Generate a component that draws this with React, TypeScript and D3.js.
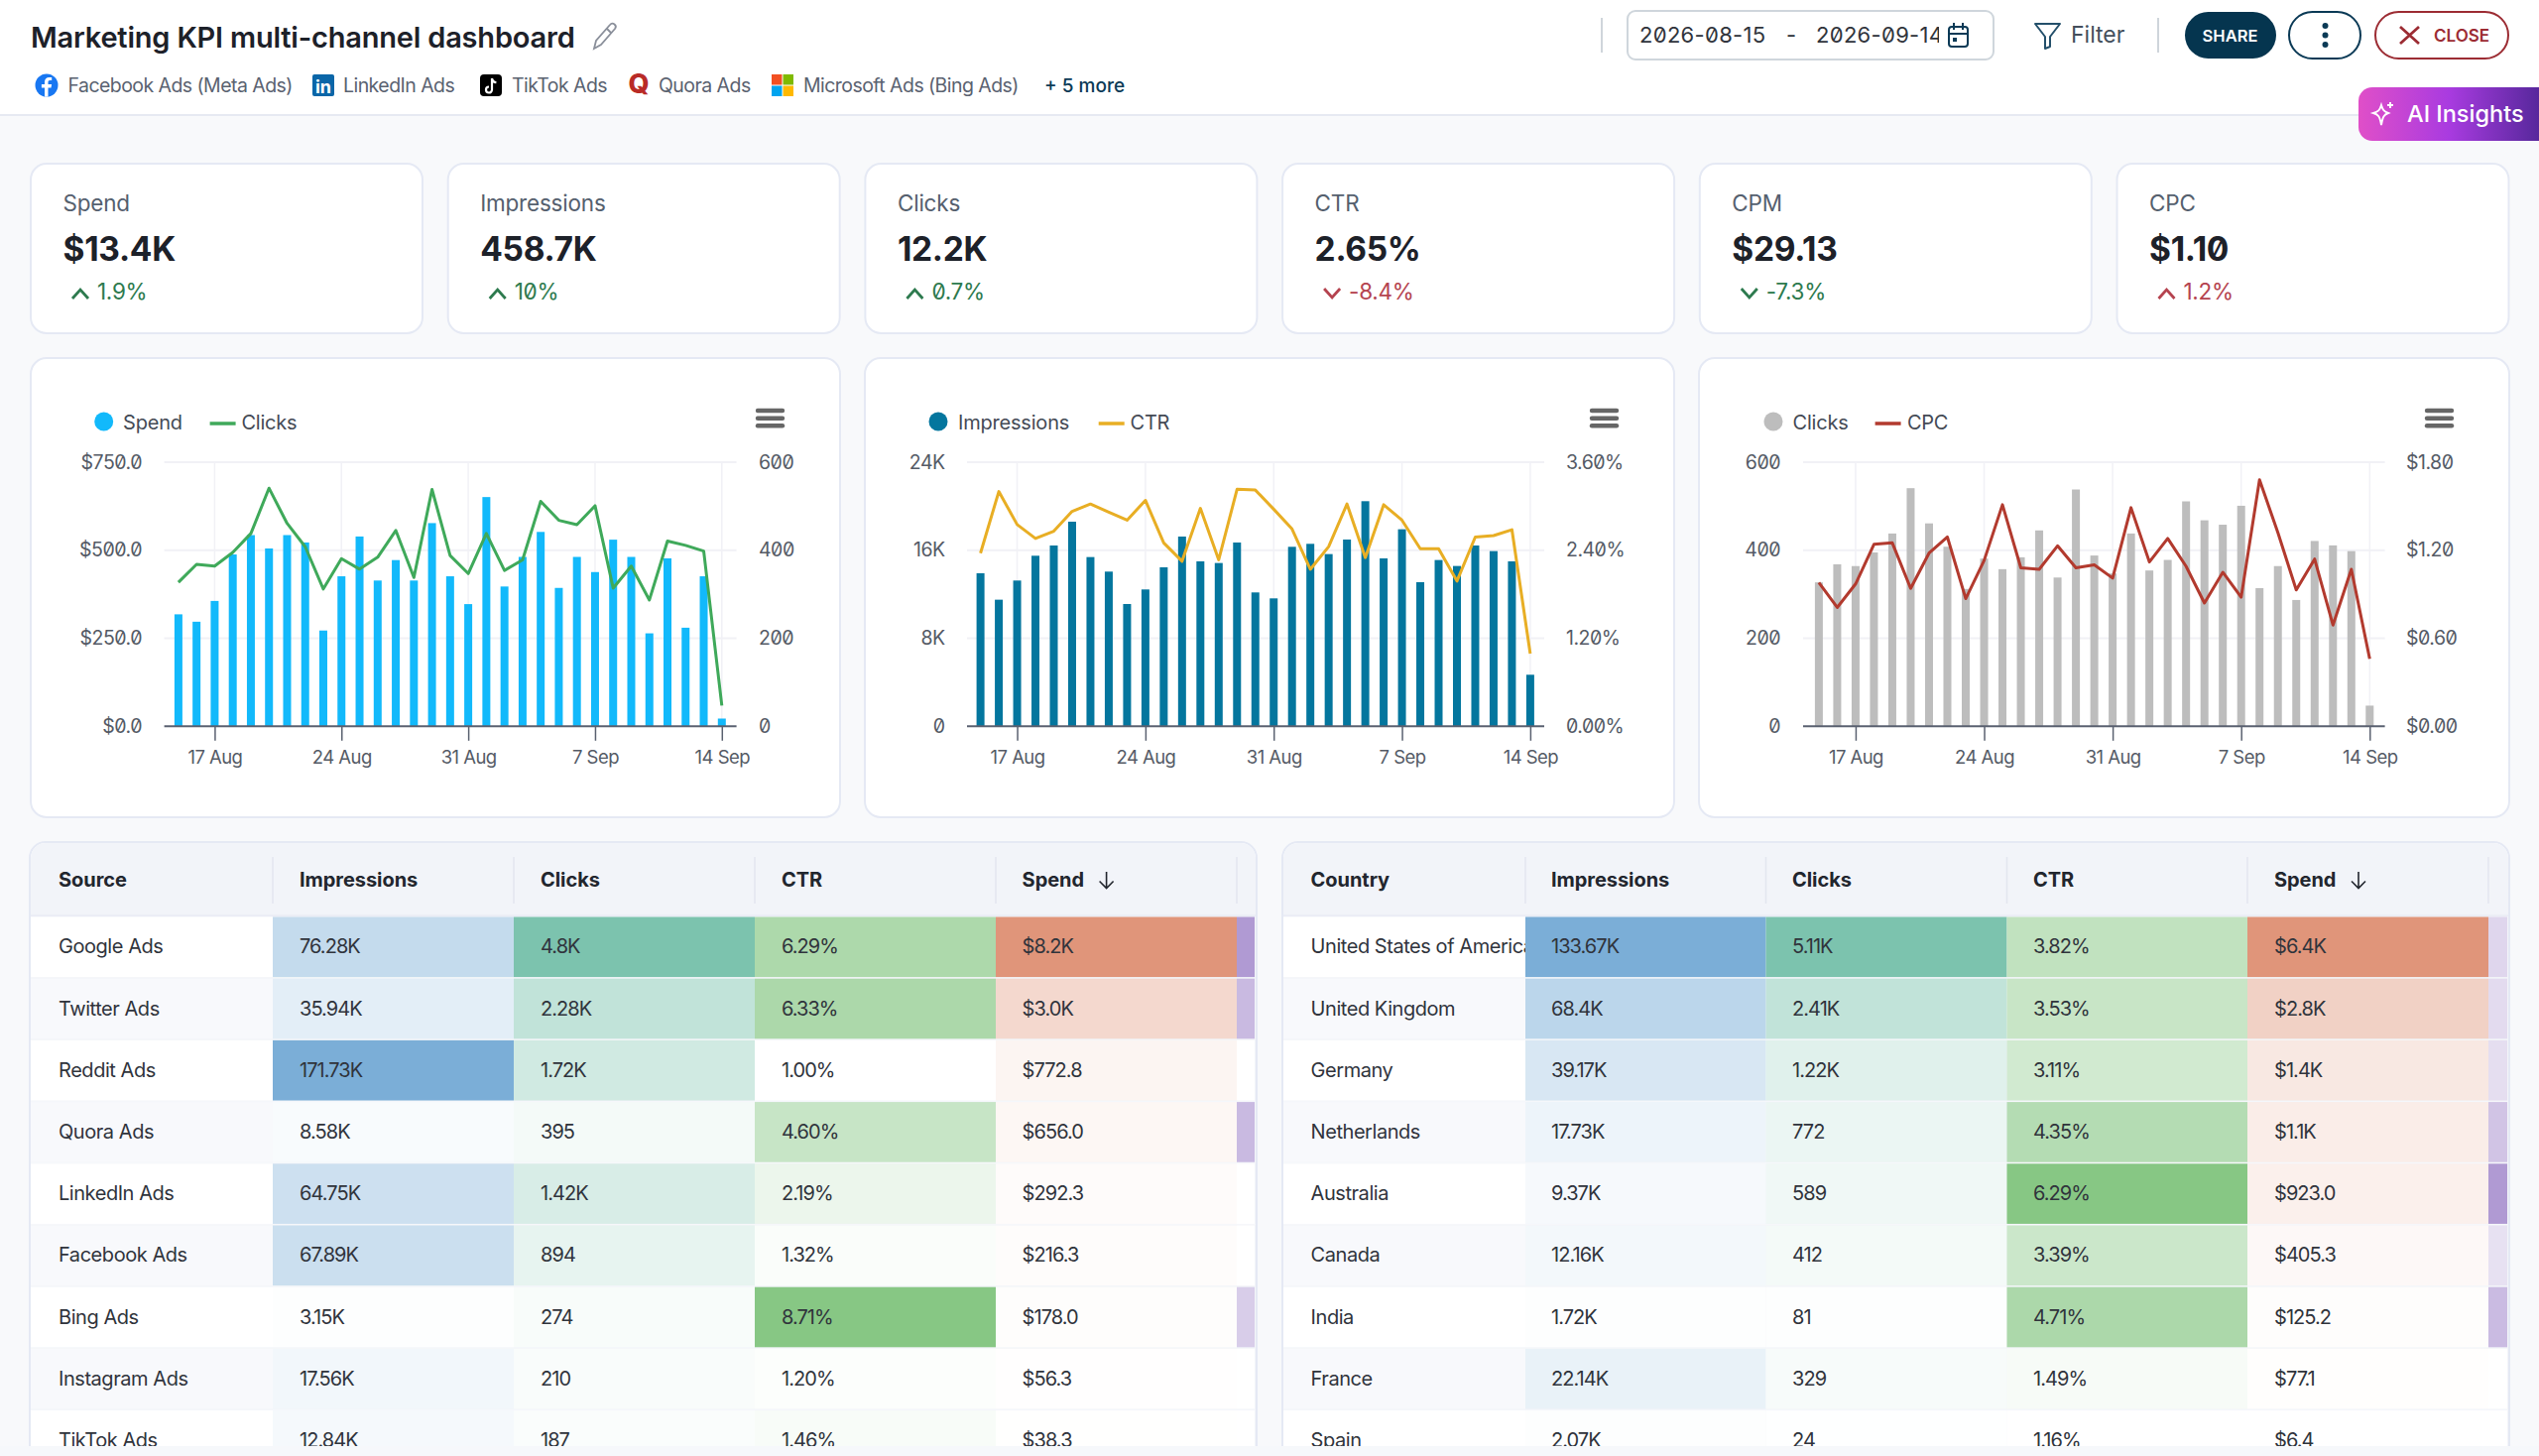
import React, { useEffect, useRef } from 'react';
import * as d3 from 'd3';

const FONT = 'Inter, "Noto Sans", sans-serif';
const SLASHED = { fontFeatureSettings: '"zero"' } as React.CSSProperties;

// daily series, 15 Aug to 14 Sep
const spendDaily = [318, 297, 356, 488, 543, 505, 543, 522, 272, 426, 539, 414, 472, 414, 577, 426, 347, 651, 397, 481, 552, 393, 481, 438, 530, 481, 264, 477, 280, 426, 22];
const clicksDaily = [327, 368, 364, 395, 438, 541, 461, 408, 312, 381, 357, 384, 445, 338, 538, 388, 347, 438, 354, 378, 511, 468, 458, 501, 314, 364, 287, 421, 411, 398, 47];
const imprDaily = [13908, 11505, 13247, 15500, 16431, 18594, 15380, 14059, 11114, 12436, 14449, 17243, 14990, 14840, 16702, 12166, 11625, 16311, 16582, 15650, 16972, 20457, 15260, 17904, 13097, 15110, 14569, 16431, 15921, 14990, 4686];
const ctrDaily = [2.36, 3.2, 2.75, 2.56, 2.66, 2.93, 3.03, 2.92, 2.81, 3.08, 2.5, 2.25, 2.97, 2.27, 3.23, 3.22, 2.96, 2.69, 2.14, 2.45, 3.03, 2.3, 3.02, 2.81, 2.42, 2.42, 1.98, 2.58, 2.6, 2.68, 0.99];
const cpcDaily = [0.98, 0.81, 0.97, 1.24, 1.25, 0.94, 1.18, 1.29, 0.87, 1.13, 1.51, 1.08, 1.07, 1.23, 1.08, 1.1, 1.01, 1.49, 1.12, 1.28, 1.09, 0.84, 1.05, 0.88, 1.68, 1.32, 0.93, 1.14, 0.69, 1.07, 0.46];

// kpi cards
const kpiLabels = ['Spend', 'Impressions', 'Clicks', 'CTR', 'CPM', 'CPC'];
const kpiValues = ['$13.4K', '458.7K', '12.2K', '2.65%', '$29.13', '$1.10'];
const kpiDeltas = ['1.9%', '10%', '0.7%', '-8.4%', '-7.3%', '1.2%'];
const kpiGood = [true, true, true, false, true, false];

// source table
const sourceNames = ['Google Ads', 'Twitter Ads', 'Reddit Ads', 'Quora Ads', 'LinkedIn Ads', 'Facebook Ads', 'Bing Ads', 'Instagram Ads', 'TikTok Ads'];
const sourceImpr = ['76.28K', '35.94K', '171.73K', '8.58K', '64.75K', '67.89K', '3.15K', '17.56K', '12.84K'];
const sourceClicks = ['4.8K', '2.28K', '1.72K', '395', '1.42K', '894', '274', '210', '187'];
const sourceCtr = ['6.29%', '6.33%', '1.00%', '4.60%', '2.19%', '1.32%', '8.71%', '1.20%', '1.46%'];
const sourceSpend = ['$8.2K', '$3.0K', '$772.8', '$656.0', '$292.3', '$216.3', '$178.0', '$56.3', '$38.3'];
const sourceCut = [1, 0.68, 0, 0.68, 0, 0, 0.5, 0, 0];

// country table
const countryNames = ['United States of America', 'United Kingdom', 'Germany', 'Netherlands', 'Australia', 'Canada', 'India', 'France', 'Spain'];
const countryImpr = ['133.67K', '68.4K', '39.17K', '17.73K', '9.37K', '12.16K', '1.72K', '22.14K', '2.07K'];
const countryClicks = ['5.11K', '2.41K', '1.22K', '772', '589', '412', '81', '329', '24'];
const countryCtr = ['3.82%', '3.53%', '3.11%', '4.35%', '6.29%', '3.39%', '4.71%', '1.49%', '1.16%'];
const countrySpend = ['$6.4K', '$2.8K', '$1.4K', '$1.1K', '$923.0', '$405.3', '$125.2', '$77.1', '$6.4'];
const countryCut = [0.41, 0.36, 0.33, 0.58, 1, 0.3, 0.67, 0, 0];

const sourceChips = ['Facebook Ads (Meta Ads)', 'LinkedIn Ads', 'TikTok Ads', 'Quora Ads', 'Microsoft Ads (Bing Ads)'];

const tickDates = d3.utcDay.range(new Date(Date.UTC(2026, 7, 17)), new Date(Date.UTC(2026, 8, 15)), 7);
const days = d3.utcDay.range(new Date(Date.UTC(2026, 7, 15)), new Date(Date.UTC(2026, 8, 15)));

interface ComboProps {
  box: [number, number];
  plot: [number, number];
  dayRange: [number, number];
  barName: string;
  lineName: string;
  bars: number[];
  line: number[];
  barMax: number;
  lineMax: number;
  barColor: string;
  lineColor: string;
  leftFmt: (v: number) => string;
  rightFmt: (v: number) => string;
  legendX: number[];
  menuX: number;
  leftEnd: number;
  rightStart: number;
}

const Combo: React.FC<ComboProps> = (p) => {
  const ref = useRef<SVGGElement | null>(null);

  useEffect(() => {
    if (!ref.current) return;
    const g = d3.select(ref.current);
    g.selectAll('*').remove();

    const yTop = 466;
    const yBase = 732.3;
    const tickColor = '#555b66';

    const x = d3.scaleUtc().domain([days[0], days[days.length - 1]]).range(p.dayRange);
    const yL = d3.scaleLinear().domain([0, p.barMax]).range([yBase, yTop]);
    const yR = d3.scaleLinear().domain([0, p.lineMax]).range([yBase, yTop]);
    const gridVals = d3.range(4).map((i) => (p.barMax * i) / 3);
    const rightVals = d3.range(4).map((i) => (p.lineMax * i) / 3);

    // panel
    g.append('rect')
      .attr('x', p.box[0]).attr('y', 361)
      .attr('width', p.box[1]).attr('height', 463)
      .attr('rx', 16)
      .attr('fill', '#fff').attr('stroke', '#e5e9f4').attr('stroke-width', 2);

    // grid
    gridVals.slice(1).forEach((v) => {
      g.append('line')
        .attr('x1', p.plot[0]).attr('x2', p.plot[1])
        .attr('y1', yL(v)).attr('y2', yL(v))
        .attr('stroke', '#f1f1f6').attr('stroke-width', 2);
    });
    tickDates.forEach((d) => {
      g.append('line')
        .attr('x1', x(d)).attr('x2', x(d))
        .attr('y1', yTop).attr('y2', yBase)
        .attr('stroke', '#f1f1f6').attr('stroke-width', 1.5);
    });

    // bars
    g.append('g').selectAll('rect').data(p.bars).join('rect')
      .attr('x', (_, i) => x(days[i]) - 4)
      .attr('y', (d) => yL(d))
      .attr('width', 8)
      .attr('height', (d) => yBase - yL(d))
      .attr('fill', p.barColor);

    // line
    const path = d3.line<number>()
      .x((_, i) => x(days[i]))
      .y((d) => yR(d));
    g.append('path')
      .attr('d', path(p.line))
      .attr('fill', 'none')
      .attr('stroke', p.lineColor)
      .attr('stroke-width', 3)
      .attr('stroke-linejoin', 'round');

    // x axis
    g.append('line')
      .attr('x1', p.plot[0]).attr('x2', p.plot[1])
      .attr('y1', yBase).attr('y2', yBase)
      .attr('stroke', '#5a6170').attr('stroke-width', 2);
    const xAxis = d3.axisBottom(x)
      .tickValues(tickDates)
      .tickFormat((d) => d3.utcFormat('%-d %b')(d as Date))
      .tickSize(14.5)
      .tickPadding(10);
    const xg = g.append('g').attr('transform', `translate(0,${yBase})`).call(xAxis);
    xg.select('.domain').remove();
    xg.selectAll('line').attr('stroke', '#5a6170').attr('stroke-width', 1.5);
    xg.selectAll('text')
      .attr('fill', tickColor).attr('font-size', 18.5).attr('letter-spacing', -0.55)
      .attr('font-family', FONT);

    // y labels
    gridVals.forEach((v) => {
      g.append('text')
        .attr('x', p.leftEnd).attr('y', yL(v) + 6.5)
        .attr('text-anchor', 'end')
        .attr('font-size', 19.5).attr('letter-spacing', -0.5).attr('fill', tickColor)
        .attr('font-family', FONT).style('font-feature-settings', '"zero"')
        .text(p.leftFmt(v));
    });
    rightVals.forEach((v) => {
      g.append('text')
        .attr('x', p.rightStart).attr('y', yR(v) + 6.5)
        .attr('font-size', 19.5).attr('letter-spacing', -0.5).attr('fill', tickColor)
        .attr('font-family', FONT).style('font-feature-settings', '"zero"')
        .text(p.rightFmt(v));
    });

    // legend
    g.append('circle').attr('cx', p.legendX[0]).attr('cy', 425).attr('r', 9.5).attr('fill', p.barColor);
    g.append('text').attr('x', p.legendX[1]).attr('y', 432.5)
      .attr('font-size', 20).attr('letter-spacing', -0.2).attr('fill', '#444a55').attr('font-family', FONT).text(p.barName);
    g.append('line')
      .attr('x1', p.legendX[2]).attr('x2', p.legendX[2] + 26)
      .attr('y1', 427).attr('y2', 427)
      .attr('stroke', p.lineColor).attr('stroke-width', 3.5);
    g.append('text').attr('x', p.legendX[3]).attr('y', 432.5)
      .attr('font-size', 20).attr('letter-spacing', -0.2).attr('fill', '#444a55').attr('font-family', FONT).text(p.lineName);

    // menu
    [414, 421.7, 429.3].forEach((yy) => {
      g.append('line')
        .attr('x1', p.menuX).attr('x2', p.menuX + 25)
        .attr('y1', yy).attr('y2', yy)
        .attr('stroke', '#666').attr('stroke-width', 4.4)
        .attr('stroke-linecap', 'round');
    });
  }, []);

  return <g ref={ref} />;
};

const num = (s: string) => {
  const v = parseFloat(s.replace(/[$%K]/g, ''));
  return s.includes('K') ? v * 1000 : v;
};

const heat = (vals: string[], color: string, fromMin = false) => {
  const nums = vals.map(num);
  return d3.scaleLinear<string>()
    .domain([fromMin ? (d3.min(nums) as number) : 0, d3.max(nums) as number])
    .range(['#ffffff', color])
    .interpolate(d3.interpolateRgb);
};

interface TableProps {
  id: string;
  left: number;
  right: number;
  cols: number[];
  textX: number[];
  title: string;
  names: string[];
  impr: string[];
  clicks: string[];
  ctr: string[];
  spend: string[];
  cut: number[];
}

const Table: React.FC<TableProps> = ({ id, left, right, cols, textX, title, names, impr, clicks, ctr, spend, cut }) => {
  const rowTop = (i: number) => 924.5 + i * 62.2;
  const rowH = 60.6;
  const ctrCol = heat(ctr, '#87c784', true);
  const columns = [
    { label: 'Impressions', vals: impr, color: heat(impr, '#7baed7') },
    { label: 'Clicks', vals: clicks, color: heat(clicks, '#7cc3ae') },
    { label: 'CTR', vals: ctr, color: ctrCol },
    { label: 'Spend', vals: spend, color: heat(spend, '#e0957a') },
  ];
  const cutColor = d3.scaleLinear<string>().domain([0, 1]).range(['#ffffff', '#b09ad3']);
  const nameTxt = { fontFamily: FONT, fontSize: 20, letterSpacing: -0.45 };
  const numTxt = { fontFamily: FONT, fontSize: 20, letterSpacing: -0.95 };
  const headTxt = { fontFamily: FONT, fontSize: 20, letterSpacing: -0.05, fontWeight: 700 };

  return (
    <g>
      <clipPath id={id}>
        <rect x={left} y={924} width={cols[0] - left} height={540} />
      </clipPath>
      <path
        d={`M${left} 1480V865a16 16 0 0 1 16 -16H${right - 16}a16 16 0 0 1 16 16V1480Z`}
        fill="#fff"
        stroke="#e5e9f4"
        strokeWidth={2}
      />
      <path
        d={`M${left + 1} 923V865a15 15 0 0 1 15 -15H${right - 16}a15 15 0 0 1 15 15V923Z`}
        fill="#f2f4f9"
      />
      <line x1={left} x2={right} y1={923.5} y2={923.5} stroke="#e5e9f4" strokeWidth={2} />
      <text x={textX[0]} y={894} {...headTxt} fill="#22262e">{title}</text>
      {columns.map((c, j) => (
        <g key={c.label}>
          <line x1={cols[j]} x2={cols[j]} y1={864} y2={911} stroke="#e3e6ef" strokeWidth={1.5} />
          <text x={textX[j + 1]} y={894} {...headTxt} fill="#22262e">{c.label}</text>
        </g>
      ))}
      <line x1={cols[4]} x2={cols[4]} y1={864} y2={911} stroke="#e3e6ef" strokeWidth={1.5} />
      <path
        d={`M${textX[4] + 85} 879v16m-7 -6.500l7 7l7 -7`}
        fill="none"
        stroke="#22262e"
        strokeWidth={1.6}
      />
      {names.map((name, i) => (
        <g key={name}>
          <rect x={left + 1} y={rowTop(i) - 0.8} width={right - left - 2} height={62.2} fill="#f3f5f9" />
          <rect x={left + 1} y={rowTop(i)} width={cols[0] - left - 1} height={rowH} fill={i % 2 ? '#f8f9fc' : '#fff'} />
          <text x={textX[0]} y={rowTop(i) + 36.8} {...nameTxt} fill="#30343c" clipPath={`url(#${id})`}>{name}</text>
          {columns.map((c, j) => (
            <g key={c.label}>
              <rect x={cols[j]} y={rowTop(i)} width={cols[j + 1] - cols[j]} height={rowH} fill={c.color(num(c.vals[i]))} />
              <text x={textX[j + 1]} y={rowTop(i) + 36.8} {...numTxt} fill="#30343c">{c.vals[i]}</text>
            </g>
          ))}
          <rect x={cols[4]} y={rowTop(i)} width={right - 2 - cols[4]} height={rowH} fill={cutColor(cut[i])} />
        </g>
      ))}
    </g>
  );
};

const App = () => {
  const cardX = d3.range(6).map((i) => 31 + i * 420.7);
  const chipText = { fontFamily: FONT, fontSize: 19.5, fill: '#5a6270', letterSpacing: -0.55 };
  const chipX = [68.5, 346, 516, 664, 810];

  return (
    <svg
      width={2560}
      height={1468}
      viewBox="0 0 2560 1468"
      style={{ position: 'absolute', left: 0, top: 0, display: 'block', fontFamily: FONT }}
    >
      <defs>
        <linearGradient id="aiGrad" x1="0" x2="1" y1="0" y2="0">
          <stop offset="0" stopColor="#e04fc8" />
          <stop offset="0.5" stopColor="#a93be0" />
          <stop offset="1" stopColor="#57289c" />
        </linearGradient>
      </defs>
      <rect width={2560} height={1468} fill="#f8f9fb" />
      <rect width={2560} height={115} fill="#fff" />
      <line x1={0} x2={2560} y1={116} y2={116} stroke="#e6e9f2" strokeWidth={2} />

      {/* header */}
      <text x={31} y={47.5} fontSize={29} fontWeight={600} fill="#1d2129" letterSpacing={-0.2}>Marketing KPI multi-channel dashboard</text>
      <path d="M599 49l2 -8l14 -16a3 3 0 0 1 5 4l-14 16z M612 29l4 4" fill="none" stroke="#8a8f9a" strokeWidth={1.8} />

      <circle cx={47} cy={86} r={11.5} fill="#1877f2" />
      <path d="M48.5 97.500v-9h3l.6-3.400h-3.600v-2.200c0-1 .5-1.800 1.900-1.800h1.800v-3c-.8-.1-1.700-.2-2.600-.2-2.800 0-4.600 1.700-4.600 4.700v2.500h-3.100v3.400H45v9z" fill="#fff" />
      <rect x={315} y={75} width={22} height={22} rx={2} fill="#0a66a8" />
      <text x={326} y={94} textAnchor="middle" fontSize={18} fontWeight={700} fill="#fff">in</text>
      <rect x={484} y={75} width={22} height={22} rx={4} fill="#000" />
      <path d="M496 79v11.500a3 3 0 1 1 -3 -3 M496 79c.4 2.600 2 4 4.400 4.200" fill="none" stroke="#fff" strokeWidth={2.2} />
      <text x={644} y={94} textAnchor="middle" fontSize={27} fontWeight={800} fill="#b92b27">Q</text>
      <rect x={778} y={75} width={10.5} height={10.5} fill="#f25022" />
      <rect x={789.5} y={75} width={10.5} height={10.5} fill="#7fba00" />
      <rect x={778} y={86.5} width={10.5} height={10.5} fill="#00a4ef" />
      <rect x={789.5} y={86.5} width={10.5} height={10.5} fill="#ffb900" />
      {sourceChips.map((c, i) => (
        <text key={c} x={chipX[i]} y={92.5} {...chipText}>{c}</text>
      ))}
      <text x={1053} y={92.5} fontSize={19} fontWeight={500} fill="#0b3a56">+ 5 more</text>

      <line x1={1615} x2={1615} y1={18} y2={53} stroke="#cfd5db" strokeWidth={2} />
      <rect x={1641} y={11} width={369} height={49} rx={8} fill="#fff" stroke="#cfd6dc" strokeWidth={2} />
      <text x={1653} y={43} fontSize={22} fill="#30343c" letterSpacing={0.3} style={SLASHED}>2026-08-15</text>
      <text x={1806} y={43} fontSize={22} fill="#30343c" textAnchor="middle">-</text>
      <clipPath id="dateClip"><rect x={1825} y={11} width={130} height={49} /></clipPath>
      <text x={1831} y={43} fontSize={22} fill="#30343c" letterSpacing={0.3} style={SLASHED} clipPath="url(#dateClip)">2026-09-14</text>
      <g fill="none" stroke="#0b3a56" strokeWidth={2}>
        <rect x={1965} y={27} width={19} height={20} rx={3} />
        <path d="M1965 34h19 M1970 23v7 M1979 23v7" />
      </g>
      <rect x={1969} y={38} width={4} height={4} fill="#0b3a56" />
      <path d="M2052 24h25l-10 13v10l-5 2v-12z" fill="none" stroke="#24506b" strokeWidth={2} strokeLinejoin="round" />
      <text x={2088} y={43} fontSize={23} fill="#444f5c">Filter</text>
      <line x1={2176} x2={2176} y1={18} y2={53} stroke="#cfd5db" strokeWidth={2} />
      <rect x={2203} y={12} width={92} height={47} rx={23.5} fill="#05354f" />
      <text x={2248.5} y={42} textAnchor="middle" fontSize={16.5} fontWeight={600} fill="#fff">SHARE</text>
      <rect x={2308} y={12} width={72} height={47} rx={23.5} fill="#fff" stroke="#0b3a56" strokeWidth={2} />
      {[26, 35.5, 45].map((cy) => (
        <circle key={cy} cx={2344.5} cy={cy} r={3} fill="#0b3a56" />
      ))}
      <rect x={2395} y={12} width={134} height={47} rx={23.5} fill="#fff" stroke="#9c2c33" strokeWidth={2} />
      <path d="M2420 27l19 17 M2439 27l-19 17" stroke="#9c2c33" strokeWidth={2.8} fill="none" />
      <text x={2454} y={42} fontSize={17} fontWeight={600} fill="#9c2c33">CLOSE</text>

      <path d="M2560 88H2392a14 14 0 0 0 -14 14V128a14 14 0 0 0 14 14H2560Z" fill="url(#aiGrad)" />
      <path d="M2401 106c1.500 5 3 6.500 7 8c-4 1.500-5.500 3-7 12c-1.500-9-3-10.500-8-12c5-1.500 6.500-3 8-8z M2410 103v6 M2407 106h6" fill="none" stroke="#fff" strokeWidth={1.9} />
      <text x={2427} y={123} fontSize={23.5} fontWeight={500} fill="#fff">AI Insights</text>

      {/* kpi cards */}
      {kpiLabels.map((label, i) => {
        const up = !kpiDeltas[i].startsWith('-');
        const col = kpiGood[i] ? '#2d7a4e' : '#b5434f';
        const x0 = cardX[i];
        return (
          <g key={label}>
            <rect x={x0} y={165} width={395} height={171} rx={16} fill="#fff" stroke="#e5e9f4" strokeWidth={2} />
            <text x={x0 + 32.5} y={213} fontSize={22.5} fill="#55606e" letterSpacing={-0.2}>{label}</text>
            <text x={x0 + 32.5} y={262.5} fontSize={33.5} fontWeight={700} fill="#1d2129" letterSpacing={-0.3} style={SLASHED}>{kpiValues[i]}</text>
            <path
              d={up
                ? `M${x0 + 42} 301l8 -9l8 9`
                : `M${x0 + 42} 291l8 9l8 -9`}
              fill="none"
              stroke={col}
              strokeWidth={2.8}
            />
            <text x={x0 + 67} y={302} fontSize={22.5} fill={col} letterSpacing={-0.3} style={SLASHED}>{kpiDeltas[i]}</text>
          </g>
        );
      })}

      {/* charts */}
      <Combo
        box={[31, 816]} plot={[165.6, 742.6]} dayRange={[179.9, 727.8]}
        barName="Spend" lineName="Clicks" bars={spendDaily} line={clicksDaily}
        barMax={750} lineMax={600} barColor="#12b9fb" lineColor="#3fa95a"
        leftFmt={(v) => `$${v.toFixed(1)}`} rightFmt={(v) => `${v}`}
        legendX={[104.7, 124, 211.6, 243.4]} menuX={764} leftEnd={143} rightStart={765}
      />
      <Combo
        box={[872, 816]} plot={[975, 1557]} dayRange={[988.6, 1542.9]}
        barName="Impressions" lineName="CTR" bars={imprDaily} line={ctrDaily}
        barMax={24000} lineMax={3.6} barColor="#04769e" lineColor="#e8ae24"
        leftFmt={(v) => (v === 0 ? '0' : `${v / 1000}K`)} rightFmt={(v) => `${v.toFixed(2)}%`}
        legendX={[946, 966, 1107.7, 1139.5]} menuX={1605} leftEnd={952.6} rightStart={1579}
      />
      <Combo
        box={[1713, 817]} plot={[1818, 2404.6]} dayRange={[1833.9, 2389.3]}
        barName="Clicks" lineName="CPC" bars={clicksDaily} line={cpcDaily}
        barMax={600} lineMax={1.8} barColor="#bdbdbd" lineColor="#b23a2e"
        leftFmt={(v) => `${v}`} rightFmt={(v) => `$${v.toFixed(2)}`}
        legendX={[1788, 1807.5, 1890.6, 1922.9]} menuX={2447} leftEnd={1795} rightStart={2426}
      />

      {/* tables */}
      <Table
        id="srcClip" left={30} right={1267}
        cols={[275, 518, 761, 1004, 1247]} textX={[59, 302, 545, 788, 1030.6]}
        title="Source" names={sourceNames} impr={sourceImpr} clicks={sourceClicks}
        ctr={sourceCtr} spend={sourceSpend} cut={sourceCut}
      />
      <Table
        id="ctryClip" left={1293} right={2530}
        cols={[1538, 1780.5, 2023.5, 2266, 2509]} textX={[1321.6, 1564, 1807, 2050, 2293]}
        title="Country" names={countryNames} impr={countryImpr} clicks={countryClicks}
        ctr={countryCtr} spend={countrySpend} cut={countryCut}
      />
      <rect x={0} y={1458} width={2560} height={10} fill="#f6f8fb" />
    </svg>
  );
};

export default App;
